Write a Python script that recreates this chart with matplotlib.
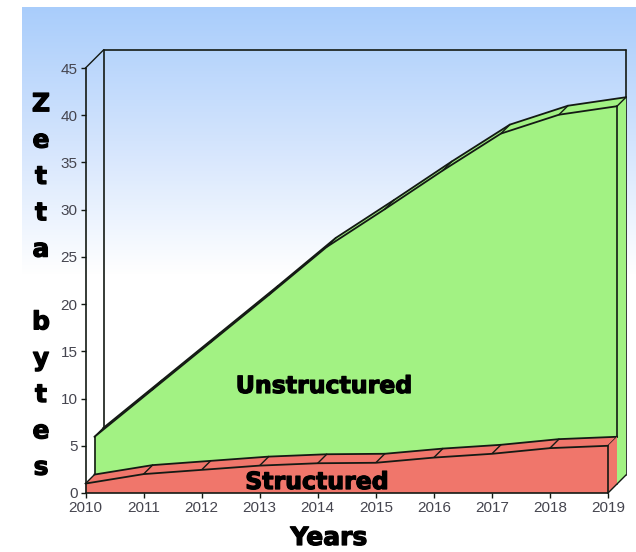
import numpy as np
import matplotlib
matplotlib.use('Agg')
import matplotlib.pyplot as plt
import matplotlib.patheffects as pe
from matplotlib.colors import LinearSegmentedColormap
from matplotlib.transforms import Affine2D

years = [2010, 2011, 2012, 2013, 2014, 2015, 2016, 2017, 2018, 2019]
structured = [1.0, 2.0, 2.45, 2.9, 3.15, 3.2, 3.75, 4.15, 4.75, 5.0]
unstructured = [4.0, 8.0, 12.55, 17.1, 21.95, 25.9, 29.45, 32.95, 34.35, 35.0]
y_ticks = [0, 5, 10, 15, 20, 25, 30, 35, 40, 45]

W, H = 636, 552
RED = '#f0766b'
GREEN = '#a2f283'
EDGE = '#141a14'
TICK = '#45454f'

fig = plt.figure(figsize=(W / 100, H / 100), dpi=100)

# sky gradient behind the whole chart
bg = fig.add_axes([22 / W, 1 - 275 / H, (636 - 22) / W, (275 - 7) / H], zorder=0)
cmap = LinearSegmentedColormap.from_list('sky', ['#a9cdfb', '#d3e4fd', '#ffffff'])
bg.imshow(np.linspace(0, 1, 256).reshape(-1, 1), aspect='auto', cmap=cmap)
bg.axis('off')

# front plane of the box, everything else is offset from it in pixels
L, R, T, B = 85.5, 608, 68, 493
ax = fig.add_axes([L / W, 1 - B / H, (R - L) / W, (B - T) / H], zorder=1)
ax.patch.set_alpha(0)
ax.set_xlim(years[0], years[-1])
ax.set_ylim(0, 45)
for s in ax.spines.values():
    s.set_visible(False)


def depth(px):
    return ax.transData + Affine2D().translate(px, px)


def line(xs, ys, d, lw=1.2, z=5, color=EDGE):
    ax.plot(xs, ys, color=color, lw=lw, transform=depth(d), clip_on=False,
            zorder=z, solid_capstyle='round')


def ribbon(vals, d0, d1, color, z):
    # top surface between two depths, with a rib at every year
    a = depth(d0).transform(np.column_stack([x, vals]))
    b = depth(d1).transform(np.column_stack([x, vals]))
    verts = np.vstack([a, b[::-1]])
    ax.fill(verts[:, 0], verts[:, 1], facecolor=color, edgecolor='none',
            transform=None, clip_on=False, zorder=z)
    for p, q in zip(a, b):
        ax.plot([p[0], q[0]], [p[1], q[1]], color=EDGE, lw=1.0, transform=None,
                clip_on=False, zorder=z + 1)
    ax.plot(b[:, 0], b[:, 1], color=EDGE, lw=1.3, transform=None,
            clip_on=False, zorder=z + 1)


def end_cap(val, d0, d1, color, z):
    # right-hand side of a layer
    side = np.vstack([
        depth(d0).transform([(x[-1], 0), (x[-1], val)]),
        depth(d1).transform([(x[-1], val), (x[-1], 0)]),
    ])
    ax.fill(side[:, 0], side[:, 1], facecolor=color, edgecolor='none', transform=None,
            clip_on=False, zorder=z)
    ax.plot(side[[0, 3], 0], side[[0, 3], 1], color=EDGE, lw=1.0, transform=None,
            clip_on=False, zorder=z + 1)


x = np.array(years, dtype=float)
low = np.array(structured)
top = low + np.array(unstructured)
D = 18
half = 9

# back wall and box outline
line([years[0], years[0]], [0, 45], D, z=1)
line([years[0], years[-1]], [45, 45], D, z=1)
line([years[-1], years[-1]], [0, 45], D, z=1)
line([years[0], years[-1]], [0, 0], 0, z=6)
line([years[0], years[0]], [0, 45], 0, z=6)
p0 = depth(0).transform([(years[0], 45)])[0]
p1 = depth(D).transform([(years[0], 45)])[0]
ax.plot([p0[0], p1[0]], [p0[1], p1[1]], color=EDGE, lw=1.0, transform=None, clip_on=False)

# upper band: green layer sits on the rear half of the box
ribbon(top, half, D, GREEN, 2)
ax.fill(list(x) + list(x[::-1]), list(top) + list(low[::-1]), facecolor=GREEN,
        edgecolor='none', transform=depth(half), clip_on=False, zorder=2)
line(x, top, half, lw=1.3, z=3)
line([x[0], x[0]], [low[0], top[0]], half, z=3)
line([x[-1], x[-1]], [low[-1], top[-1]], half, z=3)
end_cap(top[-1], half, D, GREEN, 2)

# lower band: red layer on the front half
ribbon(low, 0, half, RED, 3)
ax.fill(list(x) + [x[-1], x[0]], list(low) + [0, 0], facecolor=RED, edgecolor='none',
        transform=depth(0), clip_on=False, zorder=4)
line(x, low, 0, lw=1.3, z=5)
line([x[-1], x[-1]], [0, low[-1]], 0, z=5)
end_cap(low[-1], 0, half, RED, 4)

ax.set_xticks(years)
ax.set_yticks(y_ticks)
ax.tick_params(axis='both', length=3.8, width=1, color=EDGE, labelcolor=TICK,
               labelsize=11, pad=2)
for t in ax.get_xticklabels() + ax.get_yticklabels():
    t.set_family('Liberation Sans')

heavy = [pe.withStroke(linewidth=0.9, foreground='black')]
label_font = dict(family='DejaVu Sans', weight='bold', color='black', path_effects=heavy)

fig.text(324 / W, 1 - 386 / H, 'Unstructured', ha='center', va='center',
         fontsize=17, zorder=10, **label_font)
fig.text(317 / W, 1 - 482 / H, 'Structured', ha='center', va='center',
         fontsize=17, zorder=10, **label_font)
fig.text(329 / W, 1 - 538 / H, 'Years', ha='center', va='center',
         fontsize=18, zorder=10, **label_font)
fig.text(41 / W, 1 - 286 / H, 'Z\ne\nt\nt\na\n\nb\ny\nt\ne\ns', ha='center', va='center',
         fontsize=18, linespacing=1.65, zorder=10, **label_font)

fig.savefig('out.png', dpi=100)
